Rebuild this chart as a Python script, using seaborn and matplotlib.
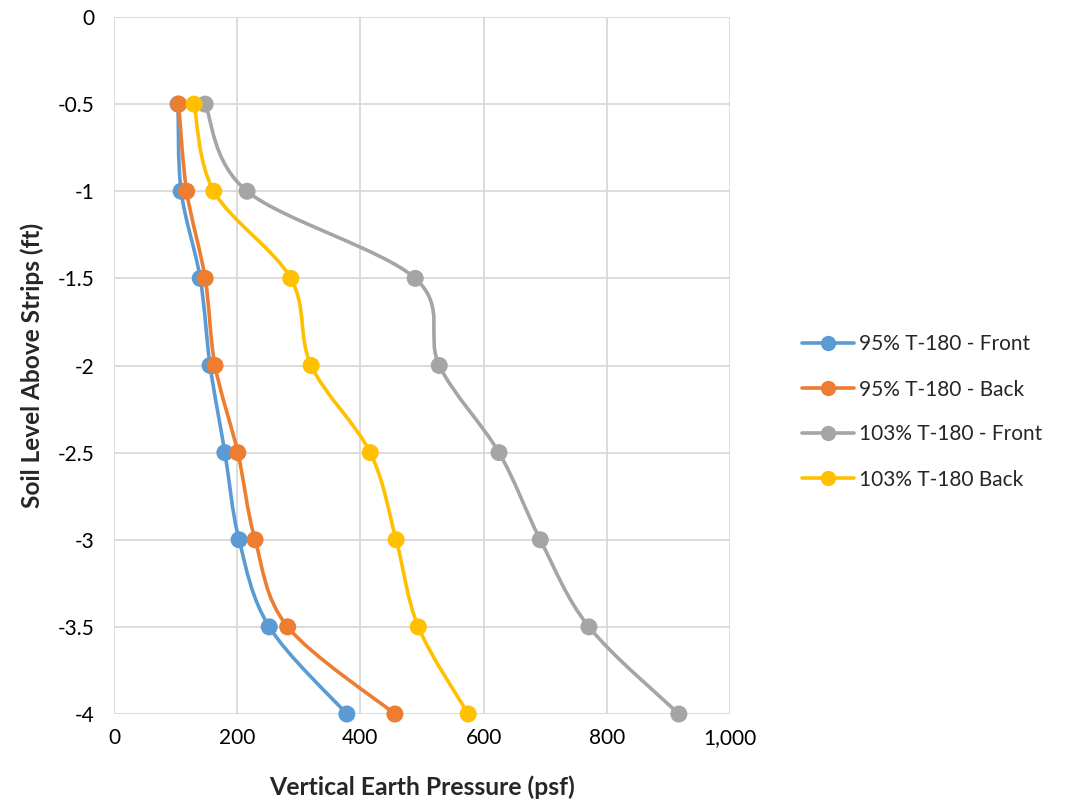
import numpy as np
import matplotlib
matplotlib.use("Agg")
import matplotlib.pyplot as plt
from matplotlib.path import Path
from matplotlib.patches import PathPatch
from matplotlib.lines import Line2D
import seaborn as sns
import pandas as pd

depth = [-0.5, -1, -1.5, -2, -2.5, -3, -3.5, -4]
front_95 = [104, 109, 140, 156, 180, 203, 252, 378]
back_95 = [105, 118, 148, 164, 201, 229, 282, 456]
front_103 = [148, 216, 489, 528, 625, 692, 771, 917]
back_103 = [130, 162, 287, 320, 416, 458, 494, 575]

series_names = ["95% T-180 - Front", "95% T-180 - Back", "103% T-180 - Front", "103% T-180 Back"]
series_vals = [front_95, back_95, front_103, back_103]
colors = ["#5B9BD5", "#ED7D31", "#A5A5A5", "#FFC000"]
x_ticks = [0, 200, 400, 600, 800, 1000]
x_tick_labels = ["0", "200", "400", "600", "800", "1,000"]
y_ticks = [0, -0.5, -1, -1.5, -2, -2.5, -3, -3.5, -4]
y_tick_labels = ["0", "-0.5", "-1", "-1.5", "-2", "-2.5", "-3", "-3.5", "-4"]

sns.set_theme(style="white")
plt.rcParams['font.family'] = ['Lato', 'DejaVu Sans']

fig = plt.figure(figsize=(10.74, 8.02), dpi=100)
ax = fig.add_axes([114/1074, 1 - 714/802, (730-114)/1074, (714-17)/802])

rows = []
for name, vals in zip(series_names, series_vals):
    for d, v in zip(depth, vals):
        rows.append({"series": name, "pressure": v, "depth": d})
df = pd.DataFrame(rows)


def smooth_path(xs, ys):
    pts = np.column_stack([xs, ys]).astype(float)
    n = len(pts)
    verts = [pts[0]]
    codes = [Path.MOVETO]
    for i in range(n - 1):
        p0 = pts[i - 1] if i > 0 else pts[i]
        p1 = pts[i]
        p2 = pts[i + 1]
        p3 = pts[i + 2] if i + 2 < n else pts[i + 1]
        c1 = p1 + (p2 - p0) / 6.0
        c2 = p2 - (p3 - p1) / 6.0
        verts += [c1, c2, p2]
        codes += [Path.CURVE4] * 3
    return Path(verts, codes)


handles = []
for k, (name, col) in enumerate(zip(series_names, colors)):
    sub = df[df["series"] == name]
    patch = PathPatch(smooth_path(sub["pressure"].values, sub["depth"].values),
                      facecolor="none", edgecolor=col, lw=2.6, zorder=3 + k * 2,
                      capstyle="round", joinstyle="round", clip_on=False)
    ax.add_patch(patch)
    sns.scatterplot(data=sub, x="pressure", y="depth", color=col, s=150,
                    edgecolor="none", ax=ax, zorder=4 + k * 2, legend=False)
    handles.append(Line2D([0], [0], color=col, lw=2.6, marker="o", markersize=11,
                          markeredgewidth=0, label=name))
for coll in ax.collections:
    coll.set_clip_on(False)

ax.set_xlim(0, 1000)
ax.set_ylim(-4, 0)
ax.set_xticks(x_ticks)
ax.set_xticklabels(x_tick_labels)
ax.set_yticks(y_ticks)
ax.set_yticklabels(y_tick_labels)
ax.grid(True, color="#D9D9D9", lw=1.3)
ax.set_axisbelow(True)
for s in ax.spines.values():
    s.set_visible(False)
ax.tick_params(axis="both", labelsize=15, colors="black", length=0, pad=10)
ax.tick_params(axis="y", pad=14)
ax.set_xlabel("Vertical Earth Pressure (psf)", fontsize=17.8, fontweight="bold", labelpad=20)
ax.set_ylabel("Soil Level Above Strips (ft)", fontsize=17.6, fontweight="bold", labelpad=10)

fig.legend(handles=handles, loc="center left", bbox_to_anchor=(783/1074, 1 - 412/802),
           frameon=False, fontsize=15, handlelength=2.5, labelspacing=1.2, handletextpad=0.25)

fig.savefig("out.png", dpi=100)
